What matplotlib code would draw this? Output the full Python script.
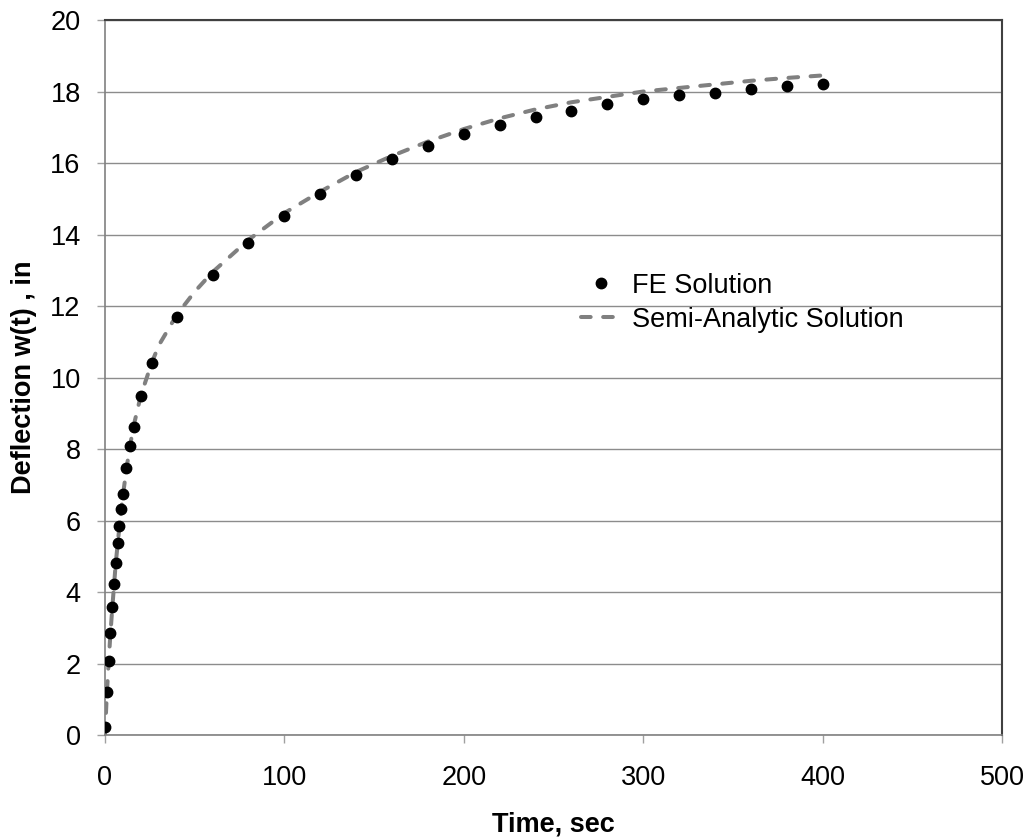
import matplotlib.pyplot as plt

plt.rcParams['font.family'] = ['Liberation Sans', 'DejaVu Sans']

# FE solution (nodal deflection vs time)
fe_time = [0, 1, 2, 3, 4, 5, 6, 7, 8, 9, 10, 12, 14, 16, 20, 26, 40, 60, 80, 100,
           120, 140, 160, 180, 200, 220, 240, 260, 280, 300, 320, 340, 360, 380, 400]
fe_defl = [0.23, 1.21, 2.07, 2.84, 3.57, 4.22, 4.82, 5.36, 5.85, 6.31, 6.73, 7.46,
           8.09, 8.62, 9.49, 10.41, 11.70, 12.87, 13.75, 14.52, 15.13, 15.66, 16.11,
           16.48, 16.80, 17.06, 17.29, 17.46, 17.64, 17.78, 17.90, 17.97, 18.07, 18.15, 18.20]

# semi-analytic solution
sa_time = [0, 1, 2, 3, 4, 6, 8, 10, 12, 14, 16, 20, 26, 30, 40, 50, 60, 80, 100, 120,
           140, 160, 180, 200, 220, 240, 260, 280, 300, 320, 340, 360, 380, 400]
sa_defl = [0.0, 1.1, 2.0, 2.8, 3.5, 4.8, 5.8, 6.7, 7.45, 8.1, 8.65, 9.5, 10.4, 10.9,
           11.75, 12.4, 12.95, 13.85, 14.6, 15.2, 15.75, 16.2, 16.6, 16.95, 17.25,
           17.5, 17.7, 17.85, 18.0, 18.1, 18.2, 18.3, 18.38, 18.45]

fig = plt.figure(figsize=(10.27, 8.38), dpi=100)
ax = fig.add_axes([0.1022, 0.1229, 0.8735, 0.8532])

ax.plot(sa_time, sa_defl, color='#808080', lw=2.9, dashes=(2.4, 3.1),
        dash_capstyle='round', label='Semi-Analytic Solution', zorder=2)
ax.plot(fe_time, fe_defl, 'o', color='black', ms=7.5, label='FE Solution', zorder=3)

ax.set_xlim(0, 500)
ax.set_ylim(0, 20)
ax.set_xticks(range(0, 501, 100))
ax.set_yticks(range(0, 21, 2))
ax.grid(True, axis='y', color='#8c8c8c', lw=1.0)
ax.set_axisbelow(True)

for s in ['left', 'bottom']:
    ax.spines[s].set_color('#808080')
    ax.spines[s].set_linewidth(1.2)
for s in ['top', 'right']:
    ax.spines[s].set_color('#404040')
    ax.spines[s].set_linewidth(1.5)
ax.tick_params(axis='both', direction='out', length=6, width=1, color='#a0a0a0',
               labelsize=19.5)
ax.tick_params(axis='x', pad=15.5)
ax.tick_params(axis='y', pad=11.5)

ax.set_xlabel('Time, sec', fontsize=19.5, fontweight='bold', labelpad=15)
ax.set_ylabel('Deflection w(t) , in', fontsize=19.5, fontweight='bold', labelpad=9.5)

h, l = ax.get_legend_handles_labels()
ax.legend(h[::-1], l[::-1], loc='center left', bbox_to_anchor=(0.503, 0.6045),
          frameon=False, fontsize=19.5, handlelength=1.5, handletextpad=0.4,
          labelspacing=0.3)

fig.savefig('out.png', dpi=100)
